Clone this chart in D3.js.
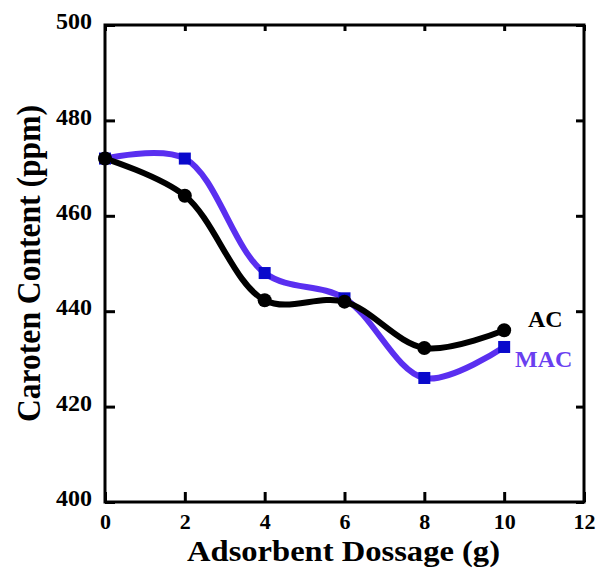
<!DOCTYPE html>
<html>
<head>
<meta charset="utf-8">
<script src="https://cdn.jsdelivr.net/npm/d3@7"></script>
<style>
  body { margin: 0; background: #fff; }
  text { font-family: "Liberation Serif", "DejaVu Serif", serif; font-weight: bold; }
</style>
</head>
<body>
<svg id="chart" width="597" height="568"></svg>
<script>
// Data
const dosage = [0, 2, 4, 6, 8, 10];
const acValues = [472, 464.2, 442.3, 442, 432.3, 436];
const macValues = [472, 472, 448, 442.7, 426, 432.5];
const xTicks = [0, 2, 4, 6, 8, 10, 12];
const yTicks = [400, 420, 440, 460, 480, 500];

const svg = d3.select('#chart');
const margin = { top: 25, right: 13, bottom: 66, left: 105 };
const width = 597, height = 568;
const innerWidth = width - margin.left - margin.right;
const innerHeight = height - margin.top - margin.bottom;

const x = d3.scaleLinear().domain([0, 12]).range([0, innerWidth]);
const y = d3.scaleLinear().domain([400, 500]).range([innerHeight, 0]);

const g = svg.append('g').attr('transform', `translate(${margin.left},${margin.top})`);

// Frame
g.append('rect')
  .attr('width', innerWidth).attr('height', innerHeight)
  .attr('fill', 'none').attr('stroke', '#000').attr('stroke-width', 3);

// Axes (ticks pointing inward)
const xAxis = g.append('g')
  .attr('transform', `translate(0,${innerHeight})`)
  .call(d3.axisBottom(x).tickValues(xTicks).tickSize(-10).tickPadding(14).tickFormat(d3.format('d')));
const yAxis = g.append('g')
  .call(d3.axisLeft(y).tickValues(yTicks).tickSize(-10).tickPadding(13).tickFormat(d3.format('d')));
const xTop = g.append('g')
  .call(d3.axisTop(x).tickValues(xTicks).tickSize(-6).tickFormat(''));
const yRight = g.append('g')
  .attr('transform', `translate(${innerWidth},0)`)
  .call(d3.axisRight(y).tickValues(yTicks).tickSize(-8).tickFormat(''));

[xAxis, yAxis, xTop, yRight].forEach(a => {
  a.select('.domain').remove();
  a.selectAll('line').attr('stroke', '#000').attr('stroke-width', 3);
  a.selectAll('text').attr('fill', '#000');
});
xTop.selectAll('text').remove();
yRight.selectAll('text').remove();
xAxis.selectAll('text').attr('font-size', 22).attr('dy', '0.6em');
yAxis.selectAll('text').attr('font-size', 24).attr('dy', '0.15em');

// Lines
const line = d3.line()
  .x((d, i) => x(dosage[i]))
  .y(d => y(d))
  .curve(d3.curveCatmullRom.alpha(0.5));

g.append('path').datum(macValues)
  .attr('fill', 'none').attr('stroke', '#5a2ff0').attr('stroke-width', 6)
  .attr('d', line);
g.append('path').datum(acValues)
  .attr('fill', 'none').attr('stroke', '#000').attr('stroke-width', 6)
  .attr('d', line);

// Markers
g.selectAll('.mac').data(macValues).enter().append('rect')
  .attr('class', 'mac')
  .attr('x', (d, i) => x(dosage[i]) - 6)
  .attr('y', d => y(d) - 6)
  .attr('width', 12).attr('height', 12)
  .attr('fill', '#0a0acc');
g.selectAll('.ac').data(acValues).enter().append('circle')
  .attr('class', 'ac')
  .attr('cx', (d, i) => x(dosage[i]))
  .attr('cy', d => y(d))
  .attr('r', 7)
  .attr('fill', '#000');

// Series labels
svg.append('text').attr('x', 528).attr('y', 327)
  .attr('font-size', 24).attr('fill', '#000').text('AC');
svg.append('text').attr('x', 515).attr('y', 367)
  .attr('font-size', 24).attr('fill', '#6a3ff0').text('MAC');

// Axis titles
svg.append('text')
  .attr('x', 187).attr('y', 561)
  .attr('font-size', 30).attr('fill', '#000')
  .attr('textLength', 313).attr('lengthAdjust', 'spacingAndGlyphs')
  .text('Adsorbent Dossage (g)');
svg.append('text')
  .attr('transform', 'translate(40,422) rotate(-90)')
  .attr('font-size', 34).attr('fill', '#000')
  .attr('textLength', 317).attr('lengthAdjust', 'spacingAndGlyphs')
  .text('Caroten Content (ppm)');
</script>
</body>
</html>
